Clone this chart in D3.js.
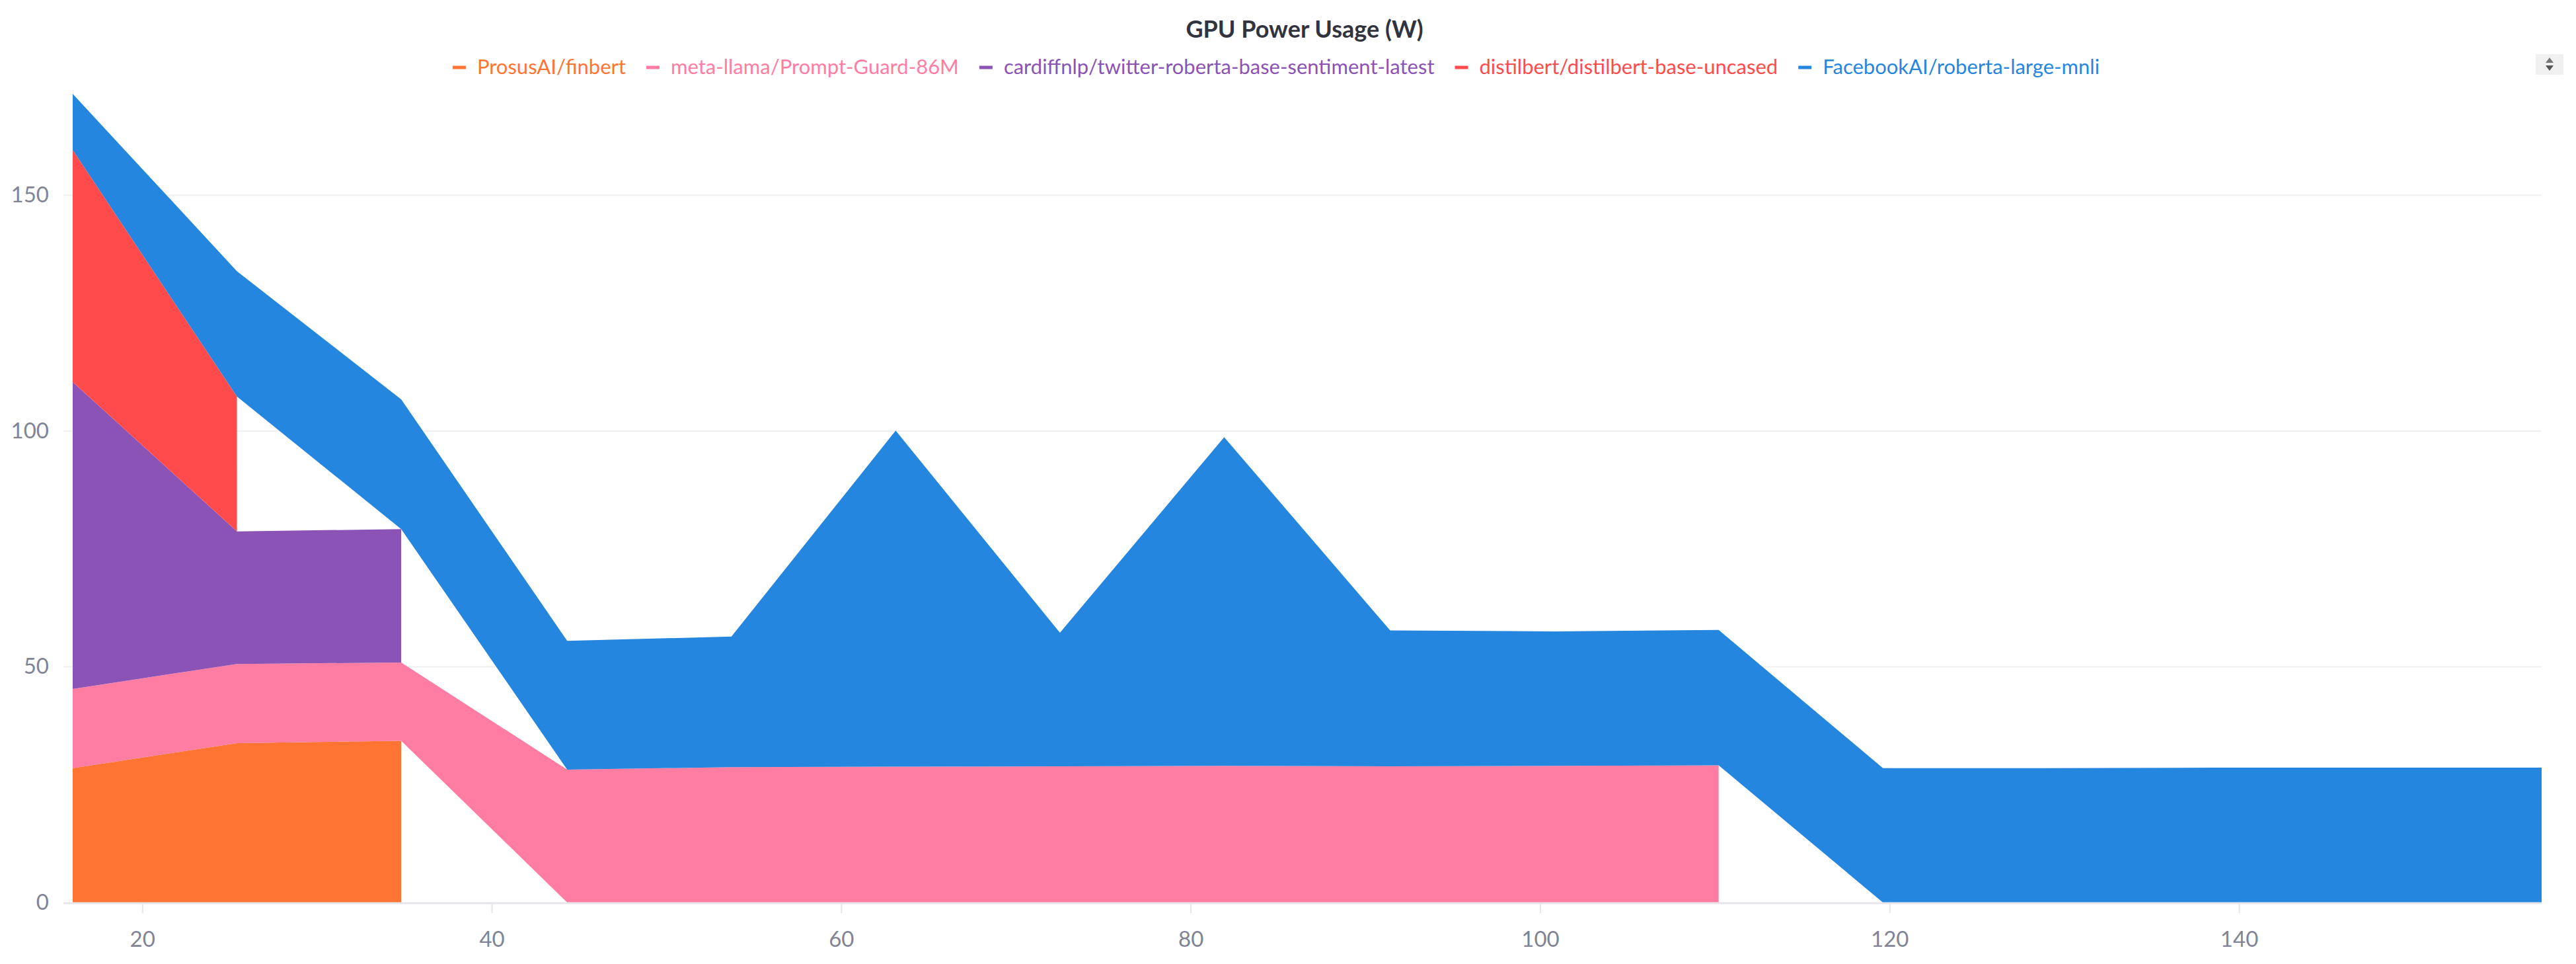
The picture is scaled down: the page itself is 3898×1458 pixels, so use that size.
<!DOCTYPE html>
<html>
<head>
<meta charset="utf-8">
<script src="https://cdn.jsdelivr.net/npm/d3@7"></script>
<style>
  body { margin: 0; background: #fff; }
  text { font-family: Lato, "Open Sans", sans-serif; }
</style>
</head>
<body>
<svg></svg>
<script>
var width = 3898;
var height = 1458;

// x positions of the samples
var xValues = [16, 25.4, 34.8, 44.3, 53.7, 63.1, 72.5, 81.9, 91.4, 100.8, 110.2, 119.6, 129.0, 138.5, 147.9, 157.3];

// stacked series, bottom to top (null = no sample)
var seriesNames = ["ProsusAI/finbert", "meta-llama/Prompt-Guard-86M", "cardiffnlp/twitter-roberta-base-sentiment-latest", "distilbert/distilbert-base-uncased", "FacebookAI/roberta-large-mnli"];
var seriesColors = ["#ff7433", "#ff7da3", "#8b53b5", "#ff4b4b", "#2586df"];

var finbert     = [28.5, 33.8, 34.3, null, null, null, null, null, null, null, null, null, null, null, null, null];
var promptGuard = [16.8, 16.8, 16.6, 28.2, 28.7, 28.8, 28.9, 29.0, 28.9, 29.0, 29.1, null, null, null, null, null];
var cardiff     = [65.1, 28.1, 28.3, null, null, null, null, null, null, null, null, null, null, null, null, null];
var distilbert  = [49.2, 28.6, null, null, null, null, null, null, null, null, null, null, null, null, null, null];
var roberta     = [11.9, 26.6, 27.5, 27.3, 27.7, 71.3, 28.3, 69.7, 28.8, 28.5, 28.7, 28.5, 28.5, 28.6, 28.6, 28.6];

var yTicks = [0, 50, 100, 150];
var xTicks = [20, 40, 60, 80, 100, 120, 140];

var allSeries = [finbert, promptGuard, cardiff, distilbert, roberta];

var svg = d3.select("svg")
    .attr("width", width)
    .attr("height", height)
    .style("background", "#fff");

var plotLeft = 110, plotRight = 3846, plotBottom = 1365;

var x = d3.scaleLinear().domain([16, 157.3]).range([plotLeft, plotRight]);
var y = d3.scaleLinear().domain([0, 171.5]).range([plotBottom, 142]);

// Grid

svg.append("g").selectAll("line")
    .data(yTicks.filter(function(t) { return t > 0; }))
    .enter().append("line")
    .attr("x1", plotLeft - 14).attr("x2", plotRight)
    .attr("y1", function(d) { return y(d); }).attr("y2", function(d) { return y(d); })
    .style("stroke", "#f0f0f2").style("stroke-width", 2);

// Stack (missing samples count as zero underneath)

var cum = xValues.map(function() { return 0; });
var layers = allSeries.map(function(s) {
  var pts = s.map(function(v, i) {
    var base = cum[i];
    return { x: xValues[i], v: v, y0: base, y1: base + (v == null ? 0 : v) };
  });
  pts.forEach(function(p, i) { cum[i] = p.y1; });
  return pts;
});

var area = d3.area()
    .defined(function(d) { return d.v != null; })
    .x(function(d) { return x(d.x); })
    .y0(function(d) { return y(d.y0); })
    .y1(function(d) { return y(d.y1); });

svg.append("g").selectAll("path")
    .data(layers)
    .enter().append("path")
    .attr("d", area)
    .style("fill", function(d, i) { return seriesColors[i]; })
    .style("stroke", "none");

// Axes

var axisColor = "#e6e6ea";
var labelColor = "#808495";

svg.append("line")
    .attr("x1", plotLeft - 14).attr("x2", plotRight)
    .attr("y1", plotBottom + 1).attr("y2", plotBottom + 1)
    .style("stroke", axisColor).style("stroke-width", 3);

var xAxis = svg.append("g");
xAxis.selectAll("line").data(xTicks).enter().append("line")
    .attr("x1", function(d) { return x(d); }).attr("x2", function(d) { return x(d); })
    .attr("y1", plotBottom + 2).attr("y2", plotBottom + 16)
    .style("stroke", axisColor).style("stroke-width", 2);
xAxis.selectAll("text").data(xTicks).enter().append("text")
    .text(function(d) { return d; })
    .attr("x", function(d) { return x(d); })
    .attr("y", 1432)
    .attr("text-anchor", "middle")
    .style("font-size", "33px").style("fill", labelColor);

svg.append("g").selectAll("text").data(yTicks).enter().append("text")
    .text(function(d) { return d; })
    .attr("x", 74)
    .attr("y", function(d) { return y(d) + 11; })
    .attr("text-anchor", "end")
    .style("font-size", "33px").style("fill", labelColor);

// Title

svg.append("text").text("GPU Power Usage (W)")
    .attr("x", 1974).attr("y", 57)
    .attr("text-anchor", "middle")
    .style("font-size", "36px").style("font-weight", 700)
    .style("fill", "#31333f");

// Legend

var legend = svg.append("g");
var lx = 0;
seriesNames.forEach(function(name, i) {
  var item = legend.append("g").attr("transform", "translate(" + lx + ",0)");
  item.append("line")
      .attr("x1", 0).attr("x2", 20).attr("y1", 0).attr("y2", 0)
      .style("stroke", seriesColors[i]).style("stroke-width", 5);
  var t = item.append("text").text(name)
      .attr("x", 37).attr("y", 10)
      .style("font-size", "31px").style("fill", seriesColors[i]);
  lx += 37 + t.node().getComputedTextLength() + 31;
});
legend.attr("transform", "translate(" + (1931 - (lx - 31) / 2) + ",102)");

// legend scroll arrows

var arrows = svg.append("g").attr("transform", "translate(3858,97)");
arrows.append("rect").attr("x", -21).attr("y", -15).attr("width", 42).attr("height", 31)
    .style("fill", "#f0f0f0");
arrows.append("path").attr("d", "M-6,-2 L6,-2 L0,-10 Z").style("fill", "#777");
arrows.append("path").attr("d", "M-6,2 L6,2 L0,10 Z").style("fill", "#555");
</script>
</body>
</html>
